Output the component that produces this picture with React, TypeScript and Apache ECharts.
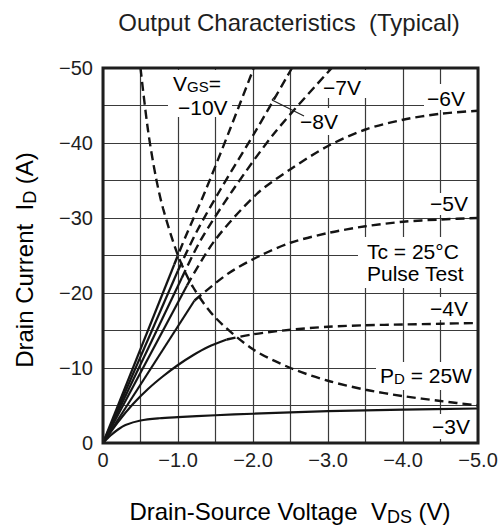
import React, { useEffect, useRef } from 'react';
import * as echarts from 'echarts';

// ---------- chart data (V_DS in volts, I_D in amperes) ----------
const TITLE = 'Output Characteristics  (Typical)';
const X_TICK_VALUES = [0, -1, -2, -3, -4, -5];
const X_TICK_LABELS = ['0', '−1.0', '−2.0', '−3.0', '−4.0', '−5.0'];
const Y_TICK_VALUES = [0, -10, -20, -30, -40, -50];
const Y_TICK_LABELS = ['0', '−10', '−20', '−30', '−40', '−50'];

// VGS = -10 V
const VGS10_SOLID_V = [0, -0.95];
const VGS10_SOLID_I = [0, -23.8];
const VGS10_DASH_V = [-0.95, -1.1, -1.36, -1.7, -2.01];
const VGS10_DASH_I = [-23.8, -27.5, -33.5, -42, -50];
// VGS = -8 V
const VGS8_SOLID_V = [0, -1.0];
const VGS8_SOLID_I = [0, -23];
const VGS8_DASH_V = [-1.0, -1.25, -1.56, -2.0, -2.52];
const VGS8_DASH_I = [-23, -28.2, -33.7, -41, -50];
// VGS = -7 V
const VGS7_SOLID_V = [0, -1.05];
const VGS7_SOLID_I = [0, -22];
const VGS7_DASH_V = [-1.05, -1.3, -1.73, -2.3, -3.05];
const VGS7_DASH_I = [-22, -27, -33.7, -41.5, -50];
// VGS = -6 V
const VGS6_SOLID_V = [0, -1.12];
const VGS6_SOLID_I = [0, -21];
const VGS6_DASH_V = [-1.12, -1.49, -2.05, -2.5, -3.0, -3.5, -4.0, -4.5, -5.0];
const VGS6_DASH_I = [-21, -27, -33.2, -36.5, -39.6, -41.8, -43.1, -43.9, -44.3];
// VGS = -5 V
const VGS5_SOLID_V = [0, -1.22];
const VGS5_SOLID_I = [0, -19];
const VGS5_DASH_V = [-1.22, -1.67, -2.1, -2.5, -3.0, -3.5, -4.0, -4.5, -5.0];
const VGS5_DASH_I = [-19, -22.6, -25, -26.7, -28, -28.9, -29.5, -29.8, -30.0];
// VGS = -4 V
const VGS4_SOLID_V = [0, -0.2, -0.4, -0.6, -0.8, -1.0, -1.2, -1.4, -1.65];
const VGS4_SOLID_I = [0, -2.8, -5.2, -7.2, -8.9, -10.4, -11.7, -12.8, -13.8];
const VGS4_DASH_V = [-1.65, -2.0, -2.5, -3.0, -3.5, -4.0, -4.5, -5.0];
const VGS4_DASH_I = [-13.8, -14.5, -15.1, -15.5, -15.7, -15.8, -15.9, -16.0];
// VGS = -3 V
const VGS3_V = [0, -0.1, -0.2, -0.3, -0.5, -0.75, -1.0, -1.5, -2.0, -3.0, -4.0, -5.0];
const VGS3_I = [0, -1.0, -1.8, -2.4, -3.0, -3.3, -3.45, -3.7, -3.9, -4.25, -4.45, -4.6];
// PD = 25 W limit
const PD_V = [-0.5, -0.6, -0.7, -0.8, -1.0, -1.2, -1.5, -2.0, -2.5, -3.0, -3.5, -4.0, -4.5, -5.0];
const PD_I = [-50, -41.7, -35.7, -31.3, -25, -20.8, -16.7, -12.5, -10, -8.3, -7.1, -6.25, -5.6, -5];

const CURVES = [
  { v: VGS10_SOLID_V, i: VGS10_SOLID_I, dashed: false, smooth: false },
  { v: VGS10_DASH_V, i: VGS10_DASH_I, dashed: true, smooth: true },
  { v: VGS8_SOLID_V, i: VGS8_SOLID_I, dashed: false, smooth: false },
  { v: VGS8_DASH_V, i: VGS8_DASH_I, dashed: true, smooth: true },
  { v: VGS7_SOLID_V, i: VGS7_SOLID_I, dashed: false, smooth: false },
  { v: VGS7_DASH_V, i: VGS7_DASH_I, dashed: true, smooth: true },
  { v: VGS6_SOLID_V, i: VGS6_SOLID_I, dashed: false, smooth: false },
  { v: VGS6_DASH_V, i: VGS6_DASH_I, dashed: true, smooth: true },
  { v: VGS5_SOLID_V, i: VGS5_SOLID_I, dashed: false, smooth: false },
  { v: VGS5_DASH_V, i: VGS5_DASH_I, dashed: true, smooth: true },
  { v: VGS4_SOLID_V, i: VGS4_SOLID_I, dashed: false, smooth: true },
  { v: VGS4_DASH_V, i: VGS4_DASH_I, dashed: true, smooth: true },
  { v: VGS3_V, i: VGS3_I, dashed: false, smooth: true },
  { v: PD_V, i: PD_I, dashed: true, smooth: true },
];

// ---------- layout / style ----------
const W = 504;
const H = 529;
const GRID = { left: 103, top: 68, width: 375, height: 375 };
const FONT = '"Liberation Sans", Arial, Helvetica, sans-serif';
const INK = '#1e1e1e';

const LABELS = [
  { text: '{n|V}{s|GS}{n|=}', x: 173, y: 83 },
  { text: '{n|−10V}', x: 178, y: 107 },
  { text: '{n|−7V}', x: 323, y: 87 },
  { text: '{n|−8V}', x: 300, y: 121.5 },
  { text: '{n|−6V}', x: 427, y: 98 },
  { text: '{n|−5V}', x: 430, y: 203.5 },
  { text: '{n|Tc = 25°C}', x: 367, y: 251.5 },
  { text: '{n|Pulse Test}', x: 367, y: 273.5 },
  { text: '{n|−4V}', x: 430, y: 308.5 },
  { text: '{n|P}{s|D}{n| = 25W}', x: 380, y: 375 },
  { text: '{n|−3V}', x: 432, y: 426 },
];
const LABEL_BOXES = [
  [168, 70, 64, 47],
  [318, 70, 50, 28],
  [296, 108, 50, 27],
  [424, 84, 53, 26],
  [425, 193, 52, 22],
  [358, 237, 119, 51],
  [425, 297, 52, 23],
  [376, 362, 101, 28],
  [427, 414, 50, 25],
];

function labelFor(values: number[], labels: string[], v: number) {
  for (let k = 0; k < values.length; k++) {
    if (Math.abs(values[k] - v) < 1e-6) return labels[k];
  }
  return '';
}

export default function App() {
  const ref = useRef<HTMLDivElement>(null);

  useEffect(() => {
    if (!ref.current) return;
    const chart = echarts.init(ref.current, null, { renderer: 'svg' });

    const richLabel = (fs: number, subFs: number, shift: number) => ({
      n: { fontSize: fs, fontFamily: FONT, color: INK },
      s: { fontSize: subFs, fontFamily: FONT, color: INK, padding: [shift * 2, 0, 0, 0] },
    });

    const graphics: any[] = [];
    LABEL_BOXES.forEach((b) => {
      graphics.push({
        type: 'rect',
        shape: { x: b[0], y: b[1], width: b[2], height: b[3] },
        style: { fill: '#ffffff' },
        z: 1,
        silent: true,
      });
    });
    LABELS.forEach((l) => {
      graphics.push({
        type: 'text',
        x: l.x,
        y: l.y,
        z: 5,
        silent: true,
        style: {
          text: l.text,
          rich: richLabel(21, 15, 3.5),
          align: 'left',
          verticalAlign: 'middle',
        },
      });
    });
    // leader for -8V
    graphics.push({
      type: 'line',
      shape: { x1: 272, y1: 100, x2: 304, y2: 116 },
      style: { stroke: INK, lineWidth: 1.2 },
      z: 5,
      silent: true,
    });
    graphics.push({
      type: 'line',
      shape: { x1: 272, y1: 100, x2: 277, y2: 94.5 },
      style: { stroke: INK, lineWidth: 1.2 },
      z: 5,
      silent: true,
    });
    // title
    graphics.push({
      type: 'text',
      x: 289,
      y: 22,
      silent: true,
      style: {
        text: TITLE,
        fontSize: 24,
        fontFamily: FONT,
        fill: INK,
        align: 'center',
        verticalAlign: 'middle',
      },
    });
    // x axis name
    graphics.push({
      type: 'text',
      x: 290,
      y: 511,
      silent: true,
      style: {
        text: '{n|Drain-Source Voltage  V}{s|DS}{n| (V)}',
        rich: richLabel(24, 18, 5.5),
        align: 'center',
        verticalAlign: 'middle',
      },
    });
    // y axis name
    graphics.push({
      type: 'text',
      x: 24,
      y: 260,
      rotation: Math.PI / 2,
      silent: true,
      style: {
        text: '{n|Drain Current  I}{s|D}{n| (A)}',
        rich: richLabel(24, 18, 5.5),
        align: 'center',
        verticalAlign: 'middle',
      },
    });
    // frame
    graphics.push({
      type: 'rect',
      shape: { x: GRID.left, y: GRID.top, width: GRID.width, height: GRID.height },
      style: { fill: 'none', stroke: INK, lineWidth: 3 },
      z: 20,
      silent: true,
    });

    chart.setOption({
      animation: false,
      backgroundColor: '#ffffff',
      grid: { ...GRID, show: false, containLabel: false },
      xAxis: {
        type: 'value',
        min: -5,
        max: 0,
        inverse: true,
        interval: 0.5,
        axisLine: { show: false },
        axisTick: { show: false },
        splitLine: { show: true, lineStyle: { color: '#3a3a3a', width: 1.2 } },
        axisLabel: {
          show: true,
          margin: 7,
          fontSize: 20,
          fontFamily: FONT,
          color: INK,
          showMinLabel: true,
          showMaxLabel: true,
          hideOverlap: false,
          formatter: (v: number) => labelFor(X_TICK_VALUES, X_TICK_LABELS, v),
        },
      },
      yAxis: {
        type: 'value',
        min: -50,
        max: 0,
        inverse: true,
        interval: 5,
        axisLine: { show: false },
        axisTick: { show: false },
        splitLine: { show: true, lineStyle: { color: '#3a3a3a', width: 1.2 } },
        axisLabel: {
          show: true,
          margin: 10,
          fontSize: 20,
          fontFamily: FONT,
          color: INK,
          showMinLabel: true,
          showMaxLabel: true,
          formatter: (v: number) => labelFor(Y_TICK_VALUES, Y_TICK_LABELS, v),
        },
      },
      series: CURVES.map((c) => ({
        type: 'line',
        data: c.v.map((x, k) => [x, c.i[k]]),
        showSymbol: false,
        symbol: 'none',
        smooth: c.smooth ? 0.3 : false,
        silent: true,
        clip: true,
        z: 3,
        lineStyle: {
          color: '#141414',
          width: c.dashed ? 2.4 : 2.2,
          type: c.dashed ? [9, 5] : 'solid',
        },
      })),
      graphic: { elements: graphics },
    });

    return () => {
      chart.dispose();
    };
  }, []);

  return (
    <div
      ref={ref}
      style={{ position: 'fixed', left: 0, top: 0, width: W, height: H, background: '#fff' }}
    />
  );
}
